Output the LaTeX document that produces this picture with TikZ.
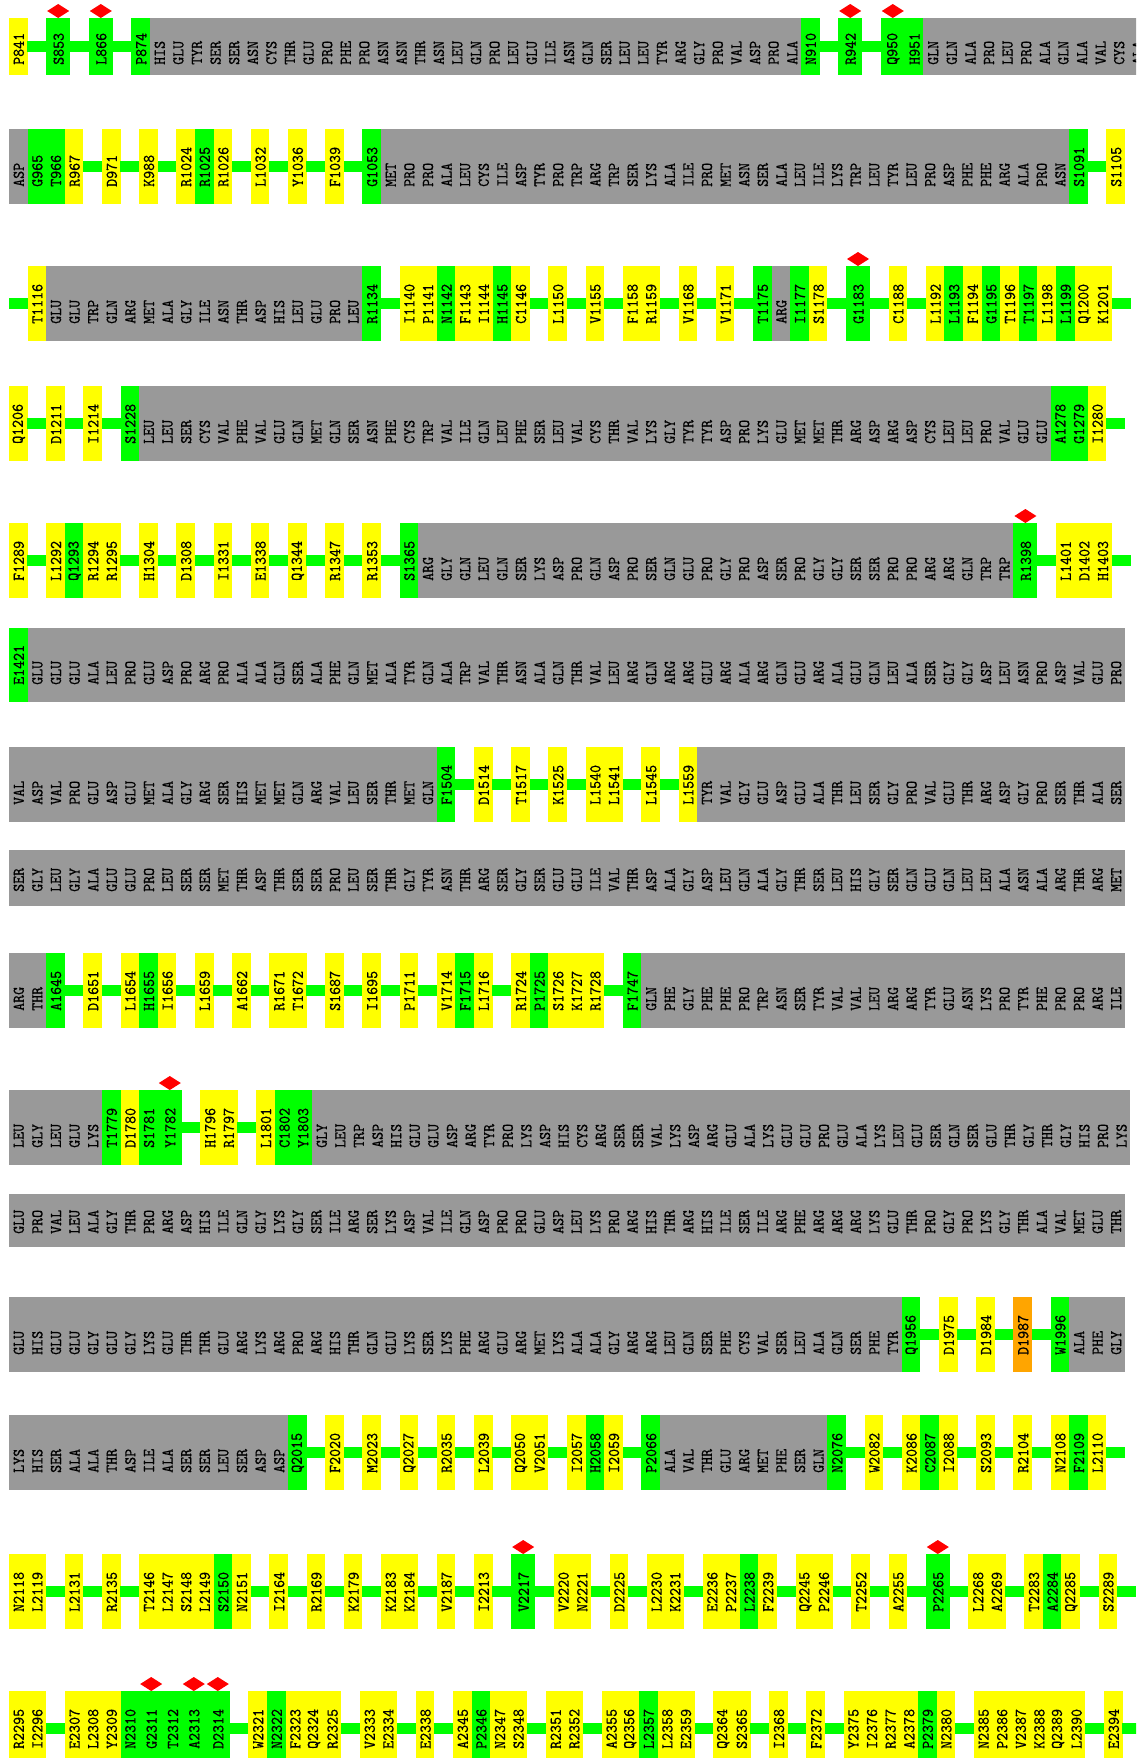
\documentclass[tikz,border=0pt]{standalone}
\usepackage{fontspec}
\newfontfamily\resfont{lmmono10-regular}[Extension=.otf,FakeBold=0.7]
\definecolor{colY}{HTML}{FFFF00}
\definecolor{colG}{HTML}{00FF00}
\definecolor{colM}{HTML}{00FF00}
\definecolor{colA}{HTML}{999999}
\definecolor{colO}{HTML}{FFA500}
\definecolor{lgreen}{HTML}{00FF00}
\definecolor{markred}{HTML}{FF0000}
\def\parseitem#1#2\relax{%
  \def\code{A}\def\lab{#1#2}%
  \if y#1\def\code{Y}\def\lab{#2}\fi
  \if g#1\def\code{G}\def\lab{#2}\fi
  \if m#1\def\code{M}\def\lab{#2}\fi
  \if o#1\def\code{O}\def\lab{#2}\fi
  \if -#1\def\code{N}\def\lab{}\fi}
\tikzset{lab/.style={rotate=90,anchor=west,inner sep=0pt,text=black,
  font=\resfont\fontsize{15.2}{16}\selectfont}}
% #1 id, #2 top, #3 height, #4 text pad, #5 items
\newcommand\resrow[5]{%
  \gdef\curx{9}%
  \foreach \resitem [count=\ci] in {#5}{%
    \expandafter\parseitem\resitem\relax
    \if M\code \def\ww{24}\else\def\ww{18.6}\fi
    \pgfmathsetmacro\xb{\curx+\ww}%
    \pgfmathsetmacro\xm{\curx+\ww/2}%
    \if N\code
      \fill[lgreen] (\curx-0.3,#2+#3/2-5.5) rectangle (\xb+0.3,#2+#3/2+5.5);
      \coordinate (r#1c\ci) at (\xm,#2+#3/2);
    \else
      \edef\fc{col\code}%
      \fill[fill=\fc] (\curx,#2) rectangle (\xb,#2+#3);
      \node[lab] (r#1c\ci) at (\xm+0.5,#2+#3-#4) {\scalebox{1}[1.08]{\lab}};
      \if M\code
        \fill[markred] (\xm,#2) -- (\xm+11,#2-7) -- (\xm,#2-14) -- (\xm-11,#2-7) -- cycle;
      \fi
    \fi
    \xdef\curx{\xb}%
  }%
}
\begin{document}
\begin{tikzpicture}[x=1pt,y=-1pt]
\useasboundingbox (0,0) rectangle (1136,1758);
\clip (0,0) rectangle (1136,1758);
\fill[white] (0,0) rectangle (1136,1758);
\resrow{1}{18}{57}{10}{yP841,-,mS853,-,mL866,-,gP874,HIS,GLU,TYR,SER,SER,ASN,CYS,THR,GLU,PRO,PHE,PRO,ASN,ASN,THR,ASN,LEU,GLN,PRO,LEU,GLU,ILE,ASN,GLN,SER,LEU,LEU,TYR,ARG,GLY,PRO,VAL,ASP,PRO,ALA,gN910,-,mR942,-,mQ950,gH951,GLN,GLN,ALA,PRO,LEU,PRO,ALA,GLN,ALA,VAL,CYS,ALA}
\resrow{2}{129}{75}{17}{ASP,gG965,gT966,yR967,-,yD971,-,yK988,-,yR1024,gR1025,yR1026,-,yL1032,-,yY1036,-,yF1039,-,gG1053,MET,PRO,PRO,ALA,LEU,CYS,ILE,ASP,TYR,PRO,TRP,ARG,TRP,SER,LYS,ALA,ILE,PRO,MET,ASN,SER,ALA,LEU,ILE,LYS,TRP,LEU,TYR,LEU,PRO,ASP,PHE,PHE,ARG,ALA,PRO,ASN,gS1091,-,yS1105}
\resrow{3}{266}{75}{17}{-,yT1116,GLU,GLU,TRP,GLN,ARG,MET,ALA,GLY,ILE,ASN,THR,ASP,HIS,LEU,GLU,PRO,LEU,gR1134,-,yI1140,yP1141,gN1142,yF1143,yI1144,gH1145,yC1146,-,yL1150,-,yV1155,-,yF1158,yR1159,-,yV1168,-,yV1171,-,gT1175,ARG,gI1177,yS1178,-,mG1183,-,yC1188,-,yL1192,gL1193,yF1194,gG1195,yT1196,gT1197,yL1198,gL1199,yQ1200,yK1201,-}
\resrow{4}{386}{75}{17}{yQ1206,-,yD1211,-,yI1214,-,gS1228,LEU,LEU,SER,CYS,VAL,PHE,VAL,GLU,GLN,MET,GLN,SER,ASN,PHE,CYS,TRP,VAL,ILE,GLN,LEU,PHE,SER,LEU,VAL,CYS,THR,VAL,LYS,GLY,TYR,TYR,ASP,PRO,LYS,GLU,MET,MET,THR,ARG,ASP,ARG,ASP,CYS,LEU,LEU,PRO,VAL,GLU,GLU,gA1278,gG1279,yI1280,-}
\resrow{5}{523}{75}{17}{yF1289,-,yL1292,gQ1293,yR1294,yR1295,-,yH1304,-,yD1308,-,yI1331,-,yE1338,-,yQ1344,-,yR1347,-,yR1353,-,gS1365,ARG,GLY,GLN,LEU,GLN,SER,LYS,ASP,PRO,GLN,ASP,PRO,SER,GLN,GLU,PRO,GLY,PRO,ASP,SER,PRO,GLY,GLY,SER,SER,PRO,PRO,ARG,ARG,GLN,TRP,TRP,mR1398,-,yL1401,yD1402,yH1403,-}
\resrow{6}{628}{74}{17}{gE1421,GLU,GLU,GLU,ALA,LEU,PRO,GLU,ASP,PRO,ARG,PRO,ALA,ALA,GLN,SER,ALA,PHE,GLN,MET,ALA,TYR,GLN,ALA,TRP,VAL,THR,ASN,ALA,GLN,THR,VAL,LEU,ARG,GLN,ARG,ARG,GLU,ARG,ALA,ARG,GLN,GLU,ARG,ALA,GLU,GLN,LEU,ALA,SER,GLY,GLY,ASP,LEU,ASN,PRO,ASP,VAL,GLU,PRO}
\resrow{7}{747}{75}{17}{VAL,ASP,VAL,PRO,GLU,ASP,GLU,MET,ALA,GLY,ARG,SER,HIS,MET,MET,GLN,ARG,VAL,LEU,SER,THR,MET,GLN,gF1504,-,yD1514,-,yT1517,-,yK1525,-,yL1540,yL1541,-,yL1545,-,yL1559,TYR,VAL,GLY,GLU,ASP,GLU,ALA,THR,LEU,SER,GLY,PRO,VAL,GLU,THR,ARG,ASP,GLY,PRO,SER,THR,ALA,SER}
\resrow{8}{850}{56}{14}{SER,GLY,LEU,GLY,ALA,GLU,GLU,PRO,LEU,SER,SER,MET,THR,ASP,THR,SER,SER,PRO,LEU,SER,THR,GLY,TYR,ASN,THR,ARG,SER,GLY,SER,GLU,GLU,ILE,VAL,THR,ASP,ALA,GLY,ASP,LEU,GLN,ALA,GLY,THR,SER,LEU,HIS,GLY,SER,GLN,GLU,GLN,LEU,LEU,ALA,ASN,ALA,ARG,THR,ARG,MET}
\resrow{9}{953}{75}{17}{ARG,THR,gA1645,-,yD1651,-,yL1654,gH1655,yI1656,-,yL1659,-,yA1662,-,yR1671,yT1672,-,yS1687,-,yI1695,-,yP1711,-,yV1714,gF1715,yL1716,-,yR1724,gP1725,yS1726,yK1727,yR1728,-,gF1747,GLN,PHE,GLY,PHE,PHE,PRO,TRP,ASN,SER,TYR,VAL,VAL,LEU,ARG,ARG,TYR,GLU,ASN,LYS,PRO,TYR,PHE,PRO,PRO,ARG,ILE}
\resrow{10}{1090}{75}{17}{LEU,GLY,LEU,GLU,LYS,gT1779,yD1780,gS1781,mY1782,-,yH1796,yR1797,-,yL1801,gC1802,gY1803,GLY,LEU,TRP,ASP,HIS,GLU,GLU,ASP,ARG,TYR,PRO,LYS,ASP,HIS,CYS,ARG,SER,SER,VAL,LYS,ASP,ARG,GLU,ALA,LYS,GLU,GLU,PRO,GLU,ALA,LYS,LEU,GLU,SER,GLN,SER,GLU,THR,GLY,THR,GLY,HIS,PRO,LYS}
\resrow{11}{1194}{53}{13}{GLU,PRO,VAL,LEU,ALA,GLY,THR,PRO,ARG,ASP,HIS,ILE,GLN,GLY,LYS,GLY,SER,ILE,ARG,SER,LYS,ASP,VAL,ILE,GLN,ASP,PRO,PRO,GLU,ASP,LEU,LYS,PRO,ARG,HIS,THR,ARG,HIS,ILE,SER,ILE,ARG,PHE,ARG,ARG,ARG,LYS,GLU,THR,PRO,GLY,PRO,LYS,GLY,THR,ALA,VAL,MET,GLU,THR}
\resrow{12}{1297}{75}{17}{GLU,HIS,GLU,GLU,GLY,GLU,GLY,LYS,GLU,THR,THR,GLU,ARG,LYS,ARG,PRO,ARG,HIS,THR,GLN,GLU,LYS,SER,LYS,PHE,ARG,GLU,ARG,MET,LYS,ALA,ALA,GLY,ARG,ARG,LEU,GLN,SER,PHE,CYS,VAL,SER,LEU,ALA,GLN,SER,PHE,TYR,gQ1956,-,yD1975,-,yD1984,-,oD1987,-,gW1996,ALA,PHE,GLY}
\resrow{13}{1415}{75}{17}{LYS,HIS,SER,ALA,ALA,THR,ASP,ILE,ALA,SER,SER,LEU,SER,ASP,ASP,gQ2015,-,yF2020,-,yM2023,-,yQ2027,-,yR2035,-,yL2039,-,yQ2050,yV2051,-,yI2057,gH2058,yI2059,-,gP2066,ALA,VAL,THR,GLU,ARG,MET,PHE,SER,GLN,gN2076,-,yW2082,-,yK2086,gC2087,yI2088,-,yS2093,-,yR2104,-,yN2108,gF2109,yL2110,-}
\resrow{14}{1554}{75}{17}{yN2118,yL2119,-,yL2131,-,yR2135,-,yT2146,yL2147,yS2148,yL2149,gS2150,yN2151,-,yI2164,-,yR2169,-,yK2179,-,yK2183,yK2184,-,yV2187,-,yI2213,-,mV2217,-,yV2220,yN2221,-,yD2225,-,yL2230,yK2231,-,yE2236,yP2237,gL2238,yF2239,-,yQ2245,yP2246,-,yT2252,-,yA2255,-,mP2265,-,yL2268,yA2269,-,yT2283,gA2284,yQ2285,-,yS2289,-}
\resrow{15}{1691}{75}{17}{yR2295,yI2296,-,yE2307,yL2308,yY2309,gN2310,mG2311,gT2312,mA2313,mD2314,-,yW2321,gN2322,yF2323,yQ2324,yR2325,-,yV2333,yE2334,-,yE2338,-,yA2345,gP2346,yN2347,yS2348,-,yR2351,yR2352,-,yA2355,yQ2356,gL2357,yL2358,yE2359,-,yQ2364,yS2365,-,yI2368,-,yF2372,-,yY2375,yI2376,yR2377,yA2378,gP2379,yN2380,-,yN2385,yP2386,yV2387,yK2388,yQ2389,yL2390,-,yE2394,-}
\end{tikzpicture}
\end{document}
